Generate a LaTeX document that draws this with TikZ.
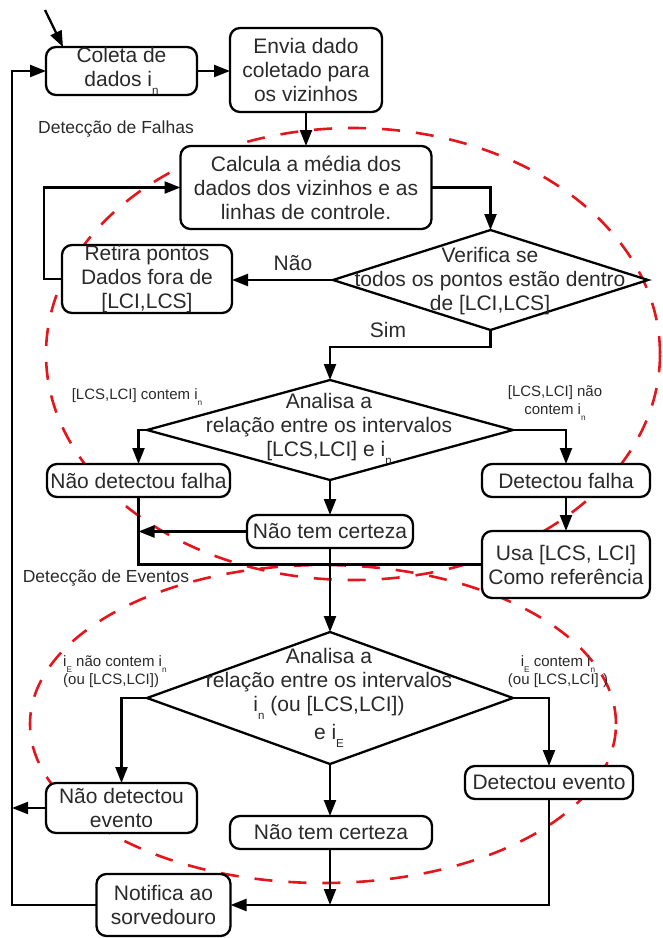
\documentclass[tikz,border=0pt]{standalone}
\usepackage{fontspec}
\setmainfont{Liberation Sans}
\usetikzlibrary{arrows.meta,shapes.geometric}
\definecolor{ink}{HTML}{2A2A2A}
\definecolor{dashred}{HTML}{E2161C}
% small lowered index, as in i_n
\newcommand\lowsub[1]{\raisebox{-0.35em}{\scalebox{0.55}{#1}}}

\begin{document}
\begin{tikzpicture}[x=1pt,y=-1pt,
  flowbox/.style={draw=black, fill=white, line width=2.3pt, rounded corners=10pt,
    align=center, text=ink, font=\fontsize{21}{24}\selectfont, inner sep=0pt, outer sep=0pt},
  decision/.style={diamond, draw=black, fill=white, line width=2.3pt, inner sep=0pt, outer sep=0pt},
  dtext/.style={align=center, text=ink, font=\fontsize{21}{24}\selectfont, inner sep=0pt},
  lbl/.style={text=ink, font=\fontsize{21}{24}\selectfont, inner sep=0pt},
  cond/.style={text=ink, font=\fontsize{15}{18}\selectfont, inner sep=0pt},
  region/.style={text=ink, font=\fontsize{17.5}{20}\selectfont, inner sep=0pt},
  link/.style={draw=black, line width=2.3pt},
  arr/.style={link, -{Triangle[length=16pt,width=12pt]}},
  zone/.style={draw=dashred, line width=2.6pt, dash pattern=on 18pt off 16pt},
]
\useasboundingbox (0,0) rectangle (662,938);

% dashed regions
\draw[zone] (353,354) ellipse [x radius=307pt, y radius=226pt];
\draw[zone] (323,724) ellipse [x radius=293pt, y radius=159pt];

% region titles
\node[region] (tfault) at (116,129) {Detecção de Falhas};
\node[region] (tevent) at (106,578) {Detecção de Eventos};

% process boxes
\node[flowbox, minimum width=151pt, minimum height=48pt] (collect) at (121.5,71) {Coleta de\\dados i\lowsub{n}};
\node[flowbox, minimum width=152pt, minimum height=84pt] (send) at (306,70) {Envia dado\\coletado para\\os vizinhos};
\node[flowbox, minimum width=251pt, minimum height=83pt] (calc) at (306,187.5) {Calcula a média dos\\dados dos vizinhos e as\\linhas de controle.};
\node[flowbox, minimum width=170pt, minimum height=68pt] (remove) at (147,279) {Retira pontos\\Dados fora de\\{}[LCI,LCS]};
\node[flowbox, minimum width=183pt, minimum height=33pt] (nofault) at (138.5,480.5) {Não detectou falha};
\node[flowbox, minimum width=168pt, minimum height=33pt] (fault) at (566,480.5) {Detectou falha};
\node[flowbox, minimum width=166pt, minimum height=33pt] (unsure1) at (330,531.5) {Não tem certeza};
\node[flowbox, minimum width=168pt, minimum height=67pt] (ref) at (566,564.5) {Usa [LCS, LCI]\\Como referência};
\node[flowbox, minimum width=151pt, minimum height=50pt] (noevent) at (121.5,808) {Não detectou\\evento};
\node[flowbox, minimum width=168pt, minimum height=33pt] (event) at (549,782.5) {Detectou evento};
\node[flowbox, minimum width=202pt, minimum height=33pt] (unsure2) at (331,832.5) {Não tem certeza};
\node[flowbox, minimum width=134pt, minimum height=62pt] (notify) at (163.5,905) {Notifica ao\\sorvedouro};

% decisions
\node[decision, minimum width=315pt, minimum height=100pt] (verify) at (490.5,280) {};
\node[dtext] (verifytext) at (490,281) {Verifica se\\todos os pontos estão dentro\\de [LCI,LCS]};
\node[decision, minimum width=366pt, minimum height=100pt] (analyse1) at (330,430) {};
\node[dtext] (analyse1text) at (329,429) {Analisa a\\relação entre os intervalos\\{}[LCS,LCI] e i\lowsub{n}};
\node[decision, minimum width=366pt, minimum height=132pt] (analyse2) at (330,698) {};
\node[dtext] (analyse2text) at (329,698) {Analisa a\\relação entre os intervalos\\i\lowsub{n} (ou [LCS,LCI])\\[4pt]e i\lowsub{E}};

% branch labels
\node[lbl] (no) at (293,263) {Não};
\node[lbl] (yes) at (388,330) {Sim};
\node[cond] (in1) at (137,397) {[LCS,LCI] contem i\lowsub{n}};
\node[cond, align=center] (out1) at (555,403) {[LCS,LCI] não\\contem i\lowsub{n}};
\node[cond, align=left, anchor=west] (out2) at (63,672) {i\lowsub{E} não contem i\lowsub{n}\\(ou [LCS,LCI])};
\node[cond, align=center] (in2) at (558,672) {i\lowsub{E} contem i\lowsub{n}\\(ou [LCS,LCI] )};

% connectors
\coordinate (start) at (45,10);
\coordinate (rail) at (12,0);
\draw[arr] (start) -- ([xshift=17pt]collect.north west);
\draw[arr] (collect.east) -- (collect.east -| send.west);
\draw[arr] (send.south) -- (send.south |- calc.north);
\draw[arr] (calc.east) -| (verify.north);
\draw[arr] (verify.west) -- (verify.west -| remove.east);
\draw[arr] (remove.west) -- ++(-18,0) |- (calc.west);
\draw[arr] (verify.south) -- ++(0,17) -| (analyse1.north);
\draw[arr] (analyse1.west) -| (nofault.north);
\draw[arr] (analyse1.east) -| (fault.north);
\draw[arr] (analyse1.south) -- (analyse1.south |- unsure1.north);
\draw[arr] (unsure1.west) -- (unsure1.west -| nofault.south);
\draw[link] (nofault.south) |- (ref.west);
\draw[arr] (fault.south) -- (fault.south |- ref.north);
\draw[arr] (unsure1.south) -- (unsure1.south |- analyse2.north);
\draw[arr] (analyse2.west) -| (noevent.north);
\draw[arr] (analyse2.east) -| (event.north);
\draw[arr] (analyse2.south) -- (analyse2.south |- unsure2.north);
\coordinate (join) at (analyse2.south |- notify.east);
\draw[arr] (analyse2.south |- unsure2.south) -- (join);
\draw[arr] (event.south) |- (notify.east);
\draw[arr] (notify.west) -- (notify.west -| rail) |- (collect.west);
\draw[arr] (noevent.west) -- (noevent.west -| rail);
\end{tikzpicture}
\end{document}
